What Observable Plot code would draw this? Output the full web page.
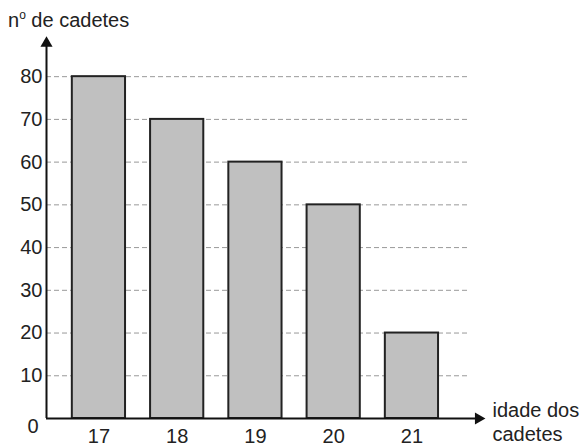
<!DOCTYPE html>
<html>
<head>
<meta charset="utf-8">
<script src="https://cdn.jsdelivr.net/npm/d3@7"></script>
<script src="https://cdn.jsdelivr.net/npm/@observablehq/plot@0.6"></script>
<style>
  html, body { margin: 0; padding: 0; background: #fff; }
  #wrap { position: relative; width: 586px; height: 447px; font-family: "Liberation Sans", Arial, sans-serif; color: #222; }
  #title { position: absolute; left: 8px; top: 10px; font-size: 20px; line-height: 1; white-space: nowrap; }
  #title sup { font-size: 12px; vertical-align: 0; position: relative; top: -8px; }
</style>
</head>
<body>
<div id="wrap">
  <div id="title">n<sup>o</sup> de cadetes</div>
</div>
<script>
// Data
const ages = [17, 18, 19, 20, 21];
const counts = [80, 70, 60, 50, 20];
const yTicks = [0, 10, 20, 30, 40, 50, 60, 70, 80];
const xLabel = "idade dos\ncadetes";

const data = ages.map((a, i) => ({age: a, count: counts[i]}));

const xMin = 16.33, xMax = 21.94, yMax = 89.4;
const gridEnd = 21.72;
const half = 0.34;
const font = "Liberation Sans, Arial, sans-serif";

const chart = Plot.plot({
  width: 586,
  height: 447,
  marginLeft: 46,
  marginRight: 101,
  marginTop: 36,
  marginBottom: 29,
  x: {type: "linear", domain: [xMin, xMax], axis: null},
  y: {domain: [0, yMax], axis: null},
  style: {fontFamily: font, color: "#222", background: "white", overflow: "visible"},
  marks: [
    Plot.ruleY(yTicks.filter(t => t > 0), {x1: xMin, x2: gridEnd, stroke: "#999", strokeDasharray: "5,3", strokeWidth: 1}),
    Plot.rectY(data, {x1: d => d.age - half, x2: d => d.age + half, y1: 0, y2: "count", fill: "#c0c0c0", stroke: "#222", strokeWidth: 2}),
    Plot.ruleX([xMin], {y1: 0, y2: yMax - 2, stroke: "#111", strokeWidth: 2}),
    Plot.ruleY([0], {x1: xMin, x2: xMax - 0.1, stroke: "#111", strokeWidth: 2}),
    Plot.dot([[xMin, yMax - 1.6]], {x: d => d[0], y: d => d[1], symbol: "triangle", r: 4.5, fill: "#111", stroke: null}),
    Plot.dot([[xMax - 0.09, 0]], {x: d => d[0], y: d => d[1], symbol: "triangle", r: 4.5, fill: "#111", stroke: null, rotate: 90}),
    Plot.text(yTicks.filter(t => t > 0), {x: xMin, y: d => d, dx: -4, textAnchor: "end", fontSize: 20, fill: "#222"}),
    Plot.text([0], {x: xMin, y: d => d, dx: -8, dy: 8, textAnchor: "end", fontSize: 20, fill: "#222"}),
    Plot.text(ages, {x: d => d, y: 0, dy: 18, textAnchor: "middle", fontSize: 20, fill: "#222"}),
    Plot.text([xLabel], {x: xMax, y: 0, dx: 7, dy: 3, textAnchor: "start", lineHeight: 1.2, fontSize: 20, fill: "#222"})
  ]
});
chart.style.position = "absolute";
chart.style.left = "0";
chart.style.top = "0";
document.getElementById("wrap").prepend(chart);
</script>
</body>
</html>
